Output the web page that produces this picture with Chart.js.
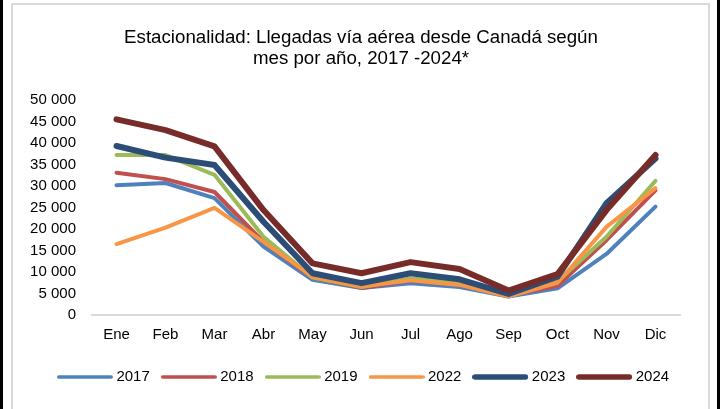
<!DOCTYPE html>
<html>
<head>
<meta charset="utf-8">
<script src="https://cdn.jsdelivr.net/npm/chart.js@4"></script>
<style>
  html, body { margin: 0; padding: 0; background: #fff; }
  #wrap { position: relative; width: 728px; height: 409px; overflow: hidden; }
  .edge { position: absolute; pointer-events: none; }
</style>
</head>
<body>
<div id="wrap">
  <canvas id="chart" width="728" height="409"></canvas>
  <div class="edge" style="left:0;top:0;width:3px;height:409px;background:#000"></div>
  <div class="edge" style="left:717px;top:0;width:3px;height:409px;background:#000"></div>
  <div class="edge" style="left:11px;top:3px;width:695px;height:420px;border:2px solid #d9d9d9;border-bottom:none"></div>
</div>
<script>
// months and arrivals per year
var meses = ['Ene', 'Feb', 'Mar', 'Abr', 'May', 'Jun', 'Jul', 'Ago', 'Sep', 'Oct', 'Nov', 'Dic'];
var y2017 = [30200, 30700, 27200, 15900, 8200, 6300, 7400, 6500, 4300, 6200, 14200, 25200];
var y2018 = [33100, 31600, 28600, 17000, 8700, 6300, 8000, 7000, 4500, 6800, 17400, 29000];
var y2019 = [37200, 37200, 32600, 18200, 8700, 6500, 8500, 7500, 4800, 7800, 18200, 31200];
var y2022 = [16500, 20300, 24900, 17000, 8900, 6600, 8100, 7000, 4300, 7500, 20500, 29500];
var y2023 = [39300, 36600, 34900, 21700, 9700, 7400, 9700, 8300, 4900, 8900, 26000, 36400];
var y2024 = [45500, 43000, 39200, 24400, 12000, 9700, 12300, 10700, 5700, 9500, 24400, 37200];
var yTicks = [0, 5000, 10000, 15000, 20000, 25000, 30000, 35000, 40000, 45000, 50000];

var FONT = "'Liberation Sans', Arial, sans-serif";

// legend swatch: a short thick line with round ends
function swatch(color, width) {
    var c = document.createElement('canvas');
    c.width = 56;
    c.height = 10;
    var g = c.getContext('2d');
    g.strokeStyle = color;
    g.lineWidth = width;
    g.lineCap = 'round';
    g.beginPath();
    g.moveTo(width / 2, 5);
    g.lineTo(56 - width / 2, 5);
    g.stroke();
    return c;
}

function serie(label, data, color, width, order) {
    return {
        label: label,
        data: data,
        borderColor: color,
        backgroundColor: color,
        borderWidth: width,
        borderCapStyle: 'round',
        borderJoinStyle: 'round',
        pointRadius: 0,
        pointStyle: swatch(color, width - 0.5),
        tension: 0,
        fill: false,
        order: order
    };
}

// nudge title and legend sideways, as in the original
var shiftBoxes = {
    id: 'shiftBoxes',
    afterLayout: function(chart) {
        chart.titleBlock.left += 11;
        chart.titleBlock.right += 11;
        chart.legend.left += 15;
        chart.legend.right += 15;
    }
};

new Chart(document.getElementById('chart'), {
    type: 'line',
    data: {
        labels: meses,
        datasets: [
            serie('2017', y2017, '#4F81BD', 4, 5),
            serie('2018', y2018, '#C0504D', 4, 4),
            serie('2019', y2019, '#9BBB59', 4, 3),
            serie('2022', y2022, '#F79646', 4, 2),
            serie('2023', y2023, '#2C4D75', 6, 1),
            serie('2024', y2024, '#772C2A', 6, 0)
        ]
    },
    plugins: [shiftBoxes],
    options: {
        responsive: false,
        animation: false,
        layout: { padding: { left: 20, right: 48, top: 0, bottom: 14.5 } },
        plugins: {
            tooltip: { enabled: false },
            title: {
                display: true,
                text: ['Estacionalidad: Llegadas vía aérea desde Canadá según', 'mes por año, 2017 -2024*'],
                color: '#000',
                font: { family: FONT, size: 18.7, weight: 'normal', lineHeight: 1.15 },
                padding: { top: 27, bottom: 30 }
            },
            legend: {
                position: 'bottom',
                labels: {
                    color: '#000',
                    font: { family: FONT, size: 15 },
                    usePointStyle: true,
                    pointStyleWidth: 48,
                    boxHeight: 10,
                    padding: 15,
                    sort: function(a, b) { return a.datasetIndex - b.datasetIndex; }
                }
            }
        },
        scales: {
            x: {
                offset: true,
                afterFit: function(scale) { scale.height = 39.5; },
                grid: { display: false, drawTicks: false, offset: true },
                border: { color: '#d9d9d9', width: 2 },
                ticks: { color: '#000', font: { family: FONT, size: 15 }, padding: 11, maxRotation: 0 }
            },
            y: {
                min: 0,
                max: 50000,
                afterFit: function(scale) { scale.width = 72; },
                afterBuildTicks: function(scale) {
                    scale.ticks = yTicks.map(function(v) { return { value: v }; });
                },
                grid: { display: false, drawTicks: false },
                border: { display: false },
                ticks: {
                    color: '#000',
                    font: { family: FONT, size: 15 },
                    padding: 16,
                    callback: function(v) {
                        return v >= 1000 ? Math.floor(v / 1000) + ' ' + String(v % 1000).padStart(3, '0') : String(v);
                    }
                }
            }
        }
    }
});
</script>
</body>
</html>
